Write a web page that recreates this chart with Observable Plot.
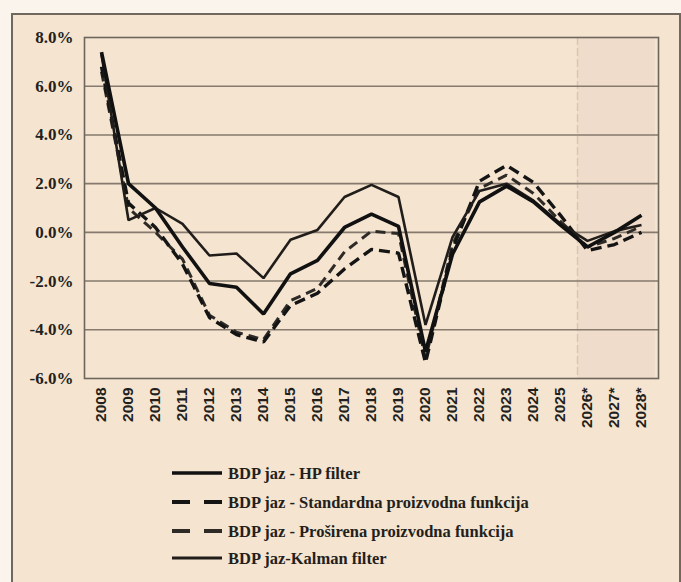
<!DOCTYPE html>
<html>
<head>
<meta charset="utf-8">
<script src="https://cdn.jsdelivr.net/npm/d3@7"></script>
<script src="https://cdn.jsdelivr.net/npm/@observablehq/plot@0.6"></script>
<style>
  html, body { margin: 0; padding: 0; background: #faf4ec; }
  #page { position: relative; width: 681px; height: 582px; overflow: hidden; }
  #box { position: absolute; left: 11px; top: 13px; width: 666px; height: 600px;
         border: 2px solid #70685e; background: #f4e4d0; }
  #chart { position: absolute; left: 0; top: 0; }
  #legend { position: absolute; left: 0; top: 440px; }
  #chart svg { background: transparent; }
  #chart g[aria-label="y-axis tick label"] text { font-family: "Liberation Serif", serif; font-size: 17px; font-weight: bold; fill: #231f1c; }
  #chart g[aria-label="x-axis tick label"] text { font-family: "Liberation Sans", sans-serif; font-size: 15.5px; font-weight: bold; fill: #231f1c; }
</style>
</head>
<body>
<div id="page">
  <div id="box"></div>
  <div id="chart"></div>
  <div id="legend"></div>
</div>
<script>
const years = ["2008","2009","2010","2011","2012","2013","2014","2015","2016","2017","2018","2019","2020","2021","2022","2023","2024","2025","2026*","2027*","2028*"];
const hpFilter   = [7.4, 2.0, 1.0, -0.6, -2.1, -2.25, -3.35, -1.7, -1.15, 0.2, 0.75, 0.25, -4.9, -0.9, 1.25, 1.9, 1.25, 0.3, -0.6, 0.0, 0.7];
const standardPF = [6.8, 1.2, 0.2, -1.3, -3.5, -4.2, -4.5, -3.0, -2.5, -1.5, -0.7, -0.85, -5.35, -0.7, 2.1, 2.75, 2.05, 0.7, -0.75, -0.5, 0.0];
const extendedPF = [6.6, 1.0, 0.0, -1.1, -3.4, -4.1, -4.4, -2.8, -2.3, -0.8, 0.05, -0.05, -5.2, -0.5, 1.8, 2.35, 1.6, 0.45, -0.6, -0.25, 0.25];
const kalman     = [7.3, 0.5, 1.0, 0.35, -0.95, -0.87, -1.88, -0.3, 0.1, 1.45, 1.95, 1.45, -3.8, -0.2, 1.7, 2.0, 1.3, 0.35, -0.35, 0.05, 0.3];
const yTicks = [-6, -4, -2, 0, 2, 4, 6, 8];
const gridTicks = [-4, -2, 0, 2, 4, 6];
const series = [
  {name: "BDP jaz - HP filter", values: hpFilter, stroke: "#111", width: 3.6, dash: null},
  {name: "BDP jaz - Standardna proizvodna funkcija", values: standardPF, stroke: "#141414", width: 3.4, dash: "11,6"},
  {name: "BDP jaz - Proširena proizvodna funkcija", values: extendedPF, stroke: "#2e2a26", width: 3.0, dash: "10,6"},
  {name: "BDP jaz-Kalman filter", values: kalman, stroke: "#201d1a", width: 2.6, dash: null}
];
const rows = years.map((y, i) => ({year: y, hp: hpFilter[i], st: standardPF[i], ex: extendedPF[i], ka: kalman[i]}));

const lineOpts = (s, key) => ({x: "year", y: key, stroke: s.stroke, strokeWidth: s.width,
  strokeDasharray: s.dash || undefined, strokeLinejoin: "miter", strokeLinecap: "butt"});

const chart = Plot.plot({
  width: 681, height: 440,
  marginLeft: 84, marginRight: 23, marginTop: 37, marginBottom: 62,
  style: {background: "transparent", overflow: "visible"},
  x: {type: "point", domain: years, padding: 0.5, label: null},
  y: {domain: [-6, 8], label: null},
  marks: [
    Plot.rect([{a: "2026*", b: "2028*"}], {x1: "a", x2: "b", y1: -6, y2: 8, insetLeft: -10, insetRight: -14, fill: "#efdcca"}),
    Plot.ruleX(["2026*"], {dx: -10, stroke: "#d8c6b3", strokeWidth: 1.5, strokeDasharray: "8,3"}),
    Plot.ruleY(gridTicks, {stroke: "#857a6d", strokeWidth: 1.6}),
    Plot.frame({stroke: "#6e665c", strokeWidth: 1.6}),
    Plot.line(rows, lineOpts(series[2], "ex")),
    Plot.line(rows, lineOpts(series[1], "st")),
    Plot.line(rows, lineOpts(series[3], "ka")),
    Plot.line(rows, lineOpts(series[0], "hp")),
    Plot.axisY({ticks: yTicks, tickFormat: d => d.toFixed(1) + "%", tickSize: 0, tickPadding: 11,
      fontSize: 17, fontWeight: "bold", fontFamily: "Liberation Serif", fill: "#231f1c", label: null}),
    Plot.axisX({tickRotate: -90, tickSize: 0, tickPadding: 9, fontSize: 15.5, fontWeight: "bold",
      fontFamily: "Liberation Sans", fill: "#231f1c", label: null})
  ]
});
document.getElementById("chart").appendChild(chart);

// legend
const lg = d3.select("#legend").append("svg").attr("width", 681).attr("height", 142);
const rowY = [33, 62, 91, 118];
series.forEach((s, i) => {
  const g = lg.append("g");
  const dash = s.dash ? "18,14" : null;
  g.append("line").attr("x1", 172).attr("x2", 222).attr("y1", rowY[i]).attr("y2", rowY[i])
    .attr("stroke", s.stroke).attr("stroke-width", i === 0 ? 3.4 : (i === 3 ? 2.8 : 3.8))
    .attr("stroke-dasharray", dash);
  g.append("text").attr("x", 228).attr("y", rowY[i]).attr("dy", "0.35em")
    .attr("font-family", "Liberation Serif").attr("font-weight", "bold").attr("font-size", 16.5)
    .attr("fill", "#231f1c").text(s.name);
});
</script>
</body>
</html>
